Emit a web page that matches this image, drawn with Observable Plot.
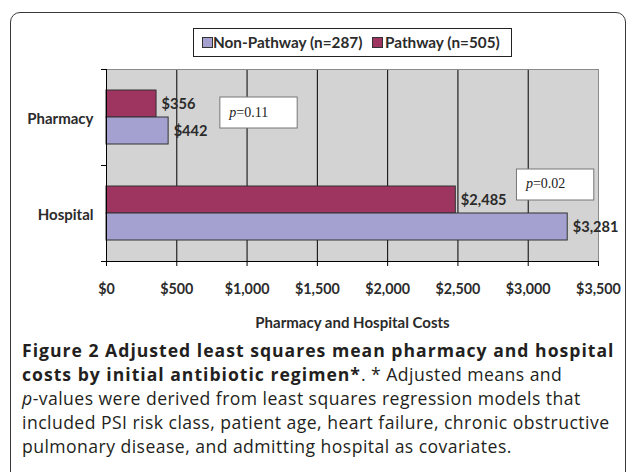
<!DOCTYPE html>
<html><head><meta charset="utf-8">
<script src="https://cdn.jsdelivr.net/npm/d3@7"></script>
<script src="https://cdn.jsdelivr.net/npm/@observablehq/plot@0.6"></script>
<style>
html,body{margin:0;padding:0;background:#fff;}
#wrap{position:relative;width:628px;height:472px;overflow:hidden;}
#panel{position:absolute;left:10px;top:12px;width:614px;height:520px;border:1.5px solid #3a3a3a;border-radius:10px;}
#legend{position:absolute;left:193px;top:28px;width:317px;height:27px;border:1px solid #222;font:bold 15.3px Lato;color:#2b2b2b;background:#fff;}
.sw{position:absolute;top:8px;width:9px;height:9px;border:1px solid #333;}
.lt{position:absolute;top:4px;line-height:18px;white-space:nowrap;}
#chart{position:absolute;left:0;top:0;}
#caption{position:absolute;left:22px;top:338px;font-family:"Open Sans";font-size:17.6px;line-height:24px;letter-spacing:0.45px;color:#231f20;white-space:nowrap;}
#caption b{font-weight:700;letter-spacing:1px;}
</style></head>
<body>
<div id="wrap">
  <div id="panel"></div>
  <div id="chart"></div>
  <div id="legend"></div>
  <div id="caption"><b>Figure 2 Adjusted least squares mean pharmacy and hospital<br>costs by initial antibiotic regimen*</b>. * Adjusted means and<br><i>p</i>-values were derived from least squares regression models that<br>included PSI risk class, patient age, heart failure, chronic obstructive<br>pulmonary disease, and admitting hospital as covariates.</div>
</div>
<script>
// ---- data ----
const categories = ["Pharmacy", "Hospital"];
const series = ["Non-Pathway (n=287)", "Pathway (n=505)"];
const nonPathway = [442, 3281];
const pathway = [356, 2485];
const xTicks = [0, 500, 1000, 1500, 2000, 2500, 3000, 3500];
const pValues = ["0.11", "0.02"];
const pBoxStart = [810, 2920];
const pBoxEnd = [1360, 3470];
const xTitle = "Pharmacy and Hospital Costs";

// ---- derived tables ----
const rows = categories.flatMap((c, i) => [
  {category: c, series: series[0], value: nonPathway[i]},
  {category: c, series: series[1], value: pathway[i]}
]);
const pNotes = categories.map((c, i) => ({category: c, p: pValues[i], x1: pBoxStart[i], x2: pBoxEnd[i]}));
const colors = ["#a4a0d0", "#9e3561"];
const fmt = d => "$" + d3.format(",")(d);
const txt = "#2b2b2b";

// legend
const legend = document.getElementById("legend");
const swLeft = [8, 178], ltLeft = [19, 191];
series.forEach((s, i) => {
  const sw = document.createElement("div");
  sw.className = "sw"; sw.style.left = swLeft[i] + "px"; sw.style.background = colors[i];
  const lt = document.createElement("div");
  lt.className = "lt"; lt.style.left = ltLeft[i] + "px"; lt.textContent = s;
  legend.appendChild(sw); legend.appendChild(lt);
});

const pInsets = [[28, 37], [4, 61]];
const pDy = [-4.8, -29.5];
const pMarks = pNotes.flatMap((n, i) => [
  Plot.barX([n], {x1: "x1", x2: "x2", y: "category", fill: "#fff", stroke: "#777", insetTop: pInsets[i][0], insetBottom: pInsets[i][1]}),
  Plot.text([n], {x: "x1", y: "category", text: () => "p", dx: 9, dy: pDy[i], textAnchor: "start", fontFamily: "Liberation Serif", fontStyle: "italic", fontSize: 14, fill: "#222"}),
  Plot.text([n], {x: "x1", y: "category", text: d => "=" + d.p, dx: 16, dy: pDy[i], textAnchor: "start", fontFamily: "Liberation Serif", fontSize: 14, fill: "#222"})
]);

const chart = Plot.plot({
  width: 628, height: 340,
  marginLeft: 106, marginRight: 30, marginTop: 69, marginBottom: 79,
  x: {domain: [0, 3500]},
  y: {domain: categories, padding: 0},
  style: {background: "transparent", fontFamily: "Lato", overflow: "visible"},
  marks: [
    Plot.frame({fill: "#d3d3d3"}),
    Plot.ruleX(xTicks.slice(1, -1), {stroke: "#000", strokeWidth: 1}),
    Plot.frame({anchor: "top", stroke: "#8a8a8a"}),
    Plot.frame({anchor: "right", stroke: "#8a8a8a"}),
    Plot.barX(rows.filter(d => d.series === series[1]), {x: "value", y: "category", fill: colors[1], stroke: "#333", insetTop: 21, insetBottom: 48}),
    Plot.barX(rows.filter(d => d.series === series[0]), {x: "value", y: "category", fill: colors[0], stroke: "#333", insetTop: 48, insetBottom: 21}),
    Plot.text(rows.filter(d => d.series === series[1]), {x: "value", y: "category", text: d => fmt(d.value), dx: 5, dy: -13.5, textAnchor: "start", fontSize: 14.6, fontWeight: "bold", fill: txt}),
    Plot.text(rows.filter(d => d.series === series[0]), {x: "value", y: "category", text: d => fmt(d.value), dx: 5, dy: 13.5, textAnchor: "start", fontSize: 14.6, fontWeight: "bold", fill: txt}),
    ...pMarks,
    Plot.ruleX([0], {stroke: "#000"}),
    Plot.frame({anchor: "bottom", stroke: "#000"}),
    Plot.axisY({tickSize: 0, tickPadding: 13, fontSize: 15, fontWeight: "bold", fill: txt, label: null, dy: 1.5}),
    Plot.axisY({text: null, tickSize: 5, dy: -48, stroke: "#000", label: null}),
    Plot.axisY({text: null, tickSize: 5, dy: 48, stroke: "#000", label: null}),
    Plot.axisX(xTicks, {tickSize: 5, tickPadding: 17, tickFormat: fmt, fontSize: 14.3, fontWeight: "bold", fill: txt, stroke: "#000", label: null}),
    Plot.text([xTitle], {frameAnchor: "bottom", dy: 66, fontSize: 15, fontWeight: "bold", fill: txt})
  ]
});
document.getElementById("chart").appendChild(chart);
</script>
</body></html>
